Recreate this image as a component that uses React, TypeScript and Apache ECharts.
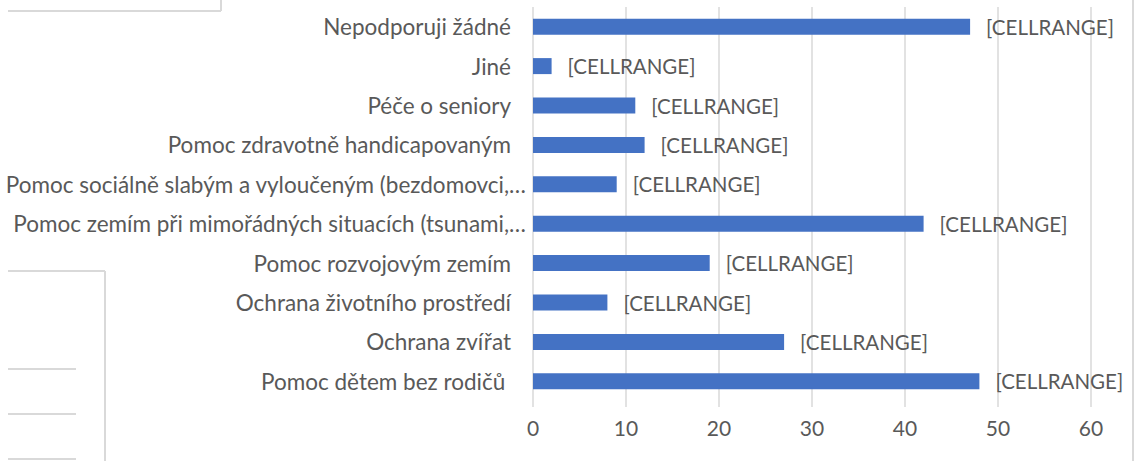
import React, { useEffect, useRef } from "react";
import * as echarts from "echarts";

const categories: string[] = [
  "Pomoc dětem bez rodičů ",
  "Ochrana zvířat",
  "Ochrana životního prostředí",
  "Pomoc rozvojovým zemím",
  "Pomoc zemím při mimořádných situacích (tsunami,…",
  "Pomoc sociálně slabým a vyloučeným (bezdomovci,…",
  "Pomoc zdravotně handicapovaným",
  "Péče o seniory",
  "Jiné",
  "Nepodporuji žádné",
];
const values: number[] = [48, 27, 8, 19, 42, 9, 12, 11, 2, 47];
const labelText = "[CELLRANGE]";
const xTicks = { min: 0, max: 60, interval: 10 };

const FONT = "Lato";
const GRAY = "#d9d9d9";
const TEXT = "#595959";

export default function App() {
  const ref = useRef<HTMLDivElement>(null);
  useEffect(() => {
    if (!ref.current) return;
    const chart = echarts.init(ref.current, undefined, { renderer: "svg" });
    const line = (x1: number, y1: number, x2: number, y2: number) => ({
      type: "line",
      shape: { x1, y1, x2, y2 },
      style: { stroke: GRAY, lineWidth: 2 },
      silent: true,
    });
    chart.setOption({
      animation: false,
      grid: { left: 533, right: 44, top: 7, bottom: 60, containLabel: false },
      xAxis: {
        type: "value",
        min: xTicks.min,
        max: xTicks.max,
        interval: xTicks.interval,
        axisLine: { show: false },
        axisTick: { show: true, length: 6, lineStyle: { color: GRAY, width: 1.5 } },
        splitLine: { show: true, lineStyle: { color: GRAY, width: 1.5 } },
        axisLabel: { color: TEXT, fontFamily: FONT, fontSize: 21, margin: 16 },
      },
      yAxis: {
        type: "category",
        data: categories,
        axisLine: { show: false },
        axisTick: { show: false },
        axisLabel: {
          margin: 7,
          formatter: (v: string) => (v.endsWith("…") ? `{e|${v}}` : `{n|${v}}`),
          rich: {
            n: { color: TEXT, fontFamily: FONT, fontSize: 22.5, padding: [0, 15, 0, 0] },
            e: { color: TEXT, fontFamily: FONT, fontSize: 22.5 },
          },
        },
      },
      series: [
        {
          type: "bar",
          data: values,
          barWidth: 16,
          itemStyle: { color: "#4472C4" },
          label: {
            show: true,
            position: "right",
            distance: 16,
            formatter: () => labelText,
            color: TEXT,
            fontFamily: FONT,
            fontSize: 20.5,
          },
        },
      ],
      graphic: [
        line(8, 11, 221, 11),
        line(221, 0, 221, 11),
        line(8, 271, 105, 271),
        line(105, 271, 105, 461),
        line(8, 369, 76, 369),
        line(8, 414, 76, 414),
        line(8, 459, 76, 459),
        line(1133, 0, 1133, 461),
      ],
    });
    return () => chart.dispose();
  }, []);
  return (
    <div
      ref={ref}
      style={{ position: "fixed", left: 0, top: 0, width: 1135, height: 461, background: "#fff" }}
    />
  );
}
